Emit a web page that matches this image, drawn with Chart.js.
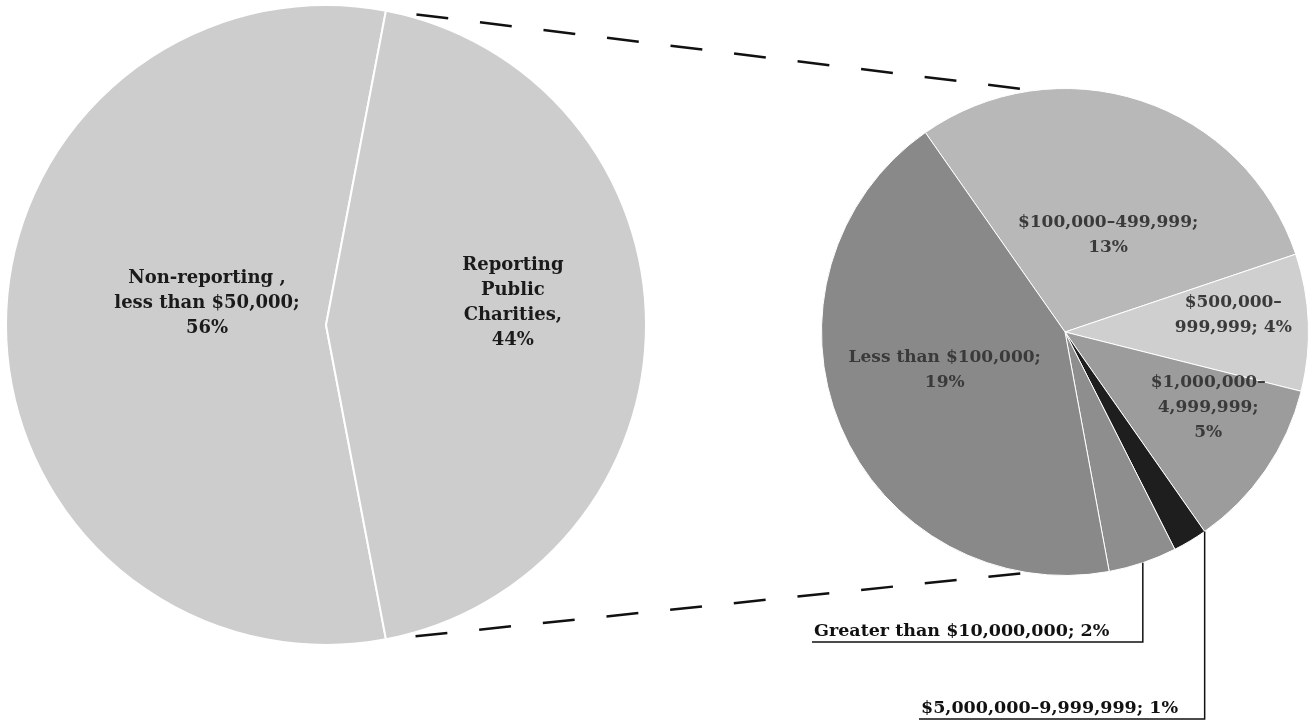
<!DOCTYPE html>
<html>
<head>
<meta charset="utf-8">
<script src="https://cdn.jsdelivr.net/npm/chart.js@4.4.1/dist/chart.umd.min.js"></script>
<style>
  html, body { margin: 0; padding: 0; background: #fff; overflow: hidden; }
  body { width: 1310px; height: 726px; position: relative; }
  canvas { position: absolute; }
  #mainPie { left: 5px; top: 4px; }
  #detailPie { left: 821px; top: 88px; }
  #overlay { left: 0; top: 0; pointer-events: none; }
</style>
</head>
<body>
<canvas id="mainPie" width="642" height="642"></canvas>
<canvas id="detailPie" width="488" height="488"></canvas>
<canvas id="overlay" width="1310" height="726"></canvas>
<script>
// ---------- Data ---------- //

// main pie: all charities
const mainCategories = ["Non-reporting ,\nless than $50,000", "Reporting\nPublic\nCharities"];
const mainValues = [56, 44];

// detail pie: reporting public charities split by size (share of all charities)
const detailCategories = [
  "$100,000–499,999",
  "$500,000–\n999,999",
  "$1,000,000–\n4,999,999",
  "$5,000,000–9,999,999",
  "Greater than $10,000,000",
  "Less than $100,000",
];
const detailValues = [13, 4, 5, 1, 2, 19];

// ---------- Helpers ---------- //

const SERIF = '"DejaVu Serif", "Liberation Serif", serif';

// draws multi-line labels inside slices, placed relative to the pie centre
function sliceLabels(cfg) {
  return {
    id: "sliceLabels",
    afterDatasetsDraw(chart) {
      const ctx = chart.ctx;
      const arcs = chart.getDatasetMeta(0).data;
      const values = chart.data.datasets[0].data;
      ctx.save();
      ctx.font = cfg.font;
      ctx.fillStyle = cfg.color;
      ctx.textAlign = "center";
      ctx.textBaseline = "middle";
      cfg.spots.forEach((spot, i) => {
        if (!spot) return;
        const arc = arcs[i];
        const r = arc.outerRadius;
        const text = chart.data.labels[i] + cfg.seps[i] + values[i] + "%";
        const lines = text.split("\n");
        const cx = arc.x + spot[0] * r;
        const cy = arc.y + spot[1] * r;
        lines.forEach((line, k) => {
          ctx.fillText(line, cx, cy + (k - (lines.length - 1) / 2) * cfg.lineHeight);
        });
      });
      ctx.restore();
    },
  };
}

function pieOptions(rotation) {
  return {
    responsive: false,
    animation: false,
    rotation: rotation,
    layout: { padding: 0 },
    plugins: {
      legend: { display: false },
      tooltip: { enabled: false },
    },
  };
}

// ---------- Main pie ---------- //

const mainChart = new Chart(document.getElementById("mainPie"), {
  type: "pie",
  data: {
    labels: mainCategories,
    datasets: [{
      data: mainValues,
      backgroundColor: ["#cdcdcd", "#cdcdcd"],
      borderColor: "#ffffff",
      borderWidth: 2,
    }],
  },
  options: pieOptions(169.2),
  plugins: [sliceLabels({
    font: "bold 18px " + SERIF,
    color: "#1a1a1a",
    lineHeight: 25,
    seps: [";\n", ",\n"],
    spots: [[-0.372, -0.069], [0.584, -0.069]],
  })],
});

// ---------- Detail pie ---------- //

const detailChart = new Chart(document.getElementById("detailPie"), {
  type: "pie",
  data: {
    labels: detailCategories,
    datasets: [{
      data: detailValues,
      backgroundColor: ["#b8b8b8", "#cfcfcf", "#9c9c9c", "#1e1e1e", "#8e8e8e", "#898989"],
      borderColor: "#ffffff",
      borderWidth: 1,
    }],
  },
  options: pieOptions(-35),
  plugins: [sliceLabels({
    font: "bold 17px " + SERIF,
    color: "#3a3a3a",
    lineHeight: 25,
    seps: [";\n", "; ", ";\n", "; ", "; ", ";\n"],
    spots: [[0.177, -0.399], [0.691, -0.07], [0.588, 0.309], null, null, [-0.494, 0.156]],
  })],
});

// ---------- Connectors and outside labels ---------- //

function pagePoint(chart, arc, angle, extra) {
  const r = arc.outerRadius + (extra || 0);
  return {
    x: chart.canvas.offsetLeft + arc.x + r * Math.cos(angle),
    y: chart.canvas.offsetTop + arc.y + r * Math.sin(angle),
  };
}

function drawOverlay() {
  const ctx = document.getElementById("overlay").getContext("2d");
  const other = mainChart.getDatasetMeta(0).data[1];
  const detailArcs = detailChart.getDatasetMeta(0).data;
  const ref = detailArcs[0];
  const tilt = 10.5 * Math.PI / 180;

  // dashed lines from the "Reporting" slice to the detail pie (drawn right to left)
  const a1 = pagePoint(mainChart, other, other.startAngle);
  const a2 = pagePoint(mainChart, other, other.endAngle);
  const b1 = pagePoint(detailChart, ref, -Math.PI / 2 - tilt, 4);
  const b2 = pagePoint(detailChart, ref, Math.PI / 2 + tilt, 2);
  ctx.save();
  ctx.strokeStyle = "#111";
  ctx.lineWidth = 2.5;
  ctx.setLineDash([32, 32]);
  ctx.beginPath();
  ctx.moveTo(b1.x, b1.y);
  ctx.lineTo(a1.x, a1.y);
  ctx.moveTo(b2.x, b2.y);
  ctx.lineTo(a2.x, a2.y);
  ctx.stroke();
  ctx.restore();

  // leader lines for the two thin slices
  const leaders = [
    { idx: 4, angle: (detailArcs[4].startAngle + detailArcs[4].endAngle) / 2, lineY: 642, left: 812 },
    { idx: 3, angle: detailArcs[3].startAngle, lineY: 719, left: 919 },
  ];
  ctx.save();
  ctx.strokeStyle = "#111";
  ctx.lineWidth = 1.5;
  ctx.fillStyle = "#111";
  ctx.font = "bold 17.5px " + SERIF;
  ctx.textAlign = "left";
  ctx.textBaseline = "alphabetic";
  leaders.forEach(l => {
    const p = pagePoint(detailChart, detailArcs[l.idx], l.angle);
    ctx.beginPath();
    ctx.moveTo(p.x, p.y);
    ctx.lineTo(p.x, l.lineY);
    ctx.lineTo(l.left, l.lineY);
    ctx.stroke();
    const text = detailCategories[l.idx] + "; " + detailValues[l.idx] + "%";
    ctx.fillText(text, l.left + 2, l.lineY - 6);
  });
  ctx.restore();
}

drawOverlay();
</script>
</body>
</html>
